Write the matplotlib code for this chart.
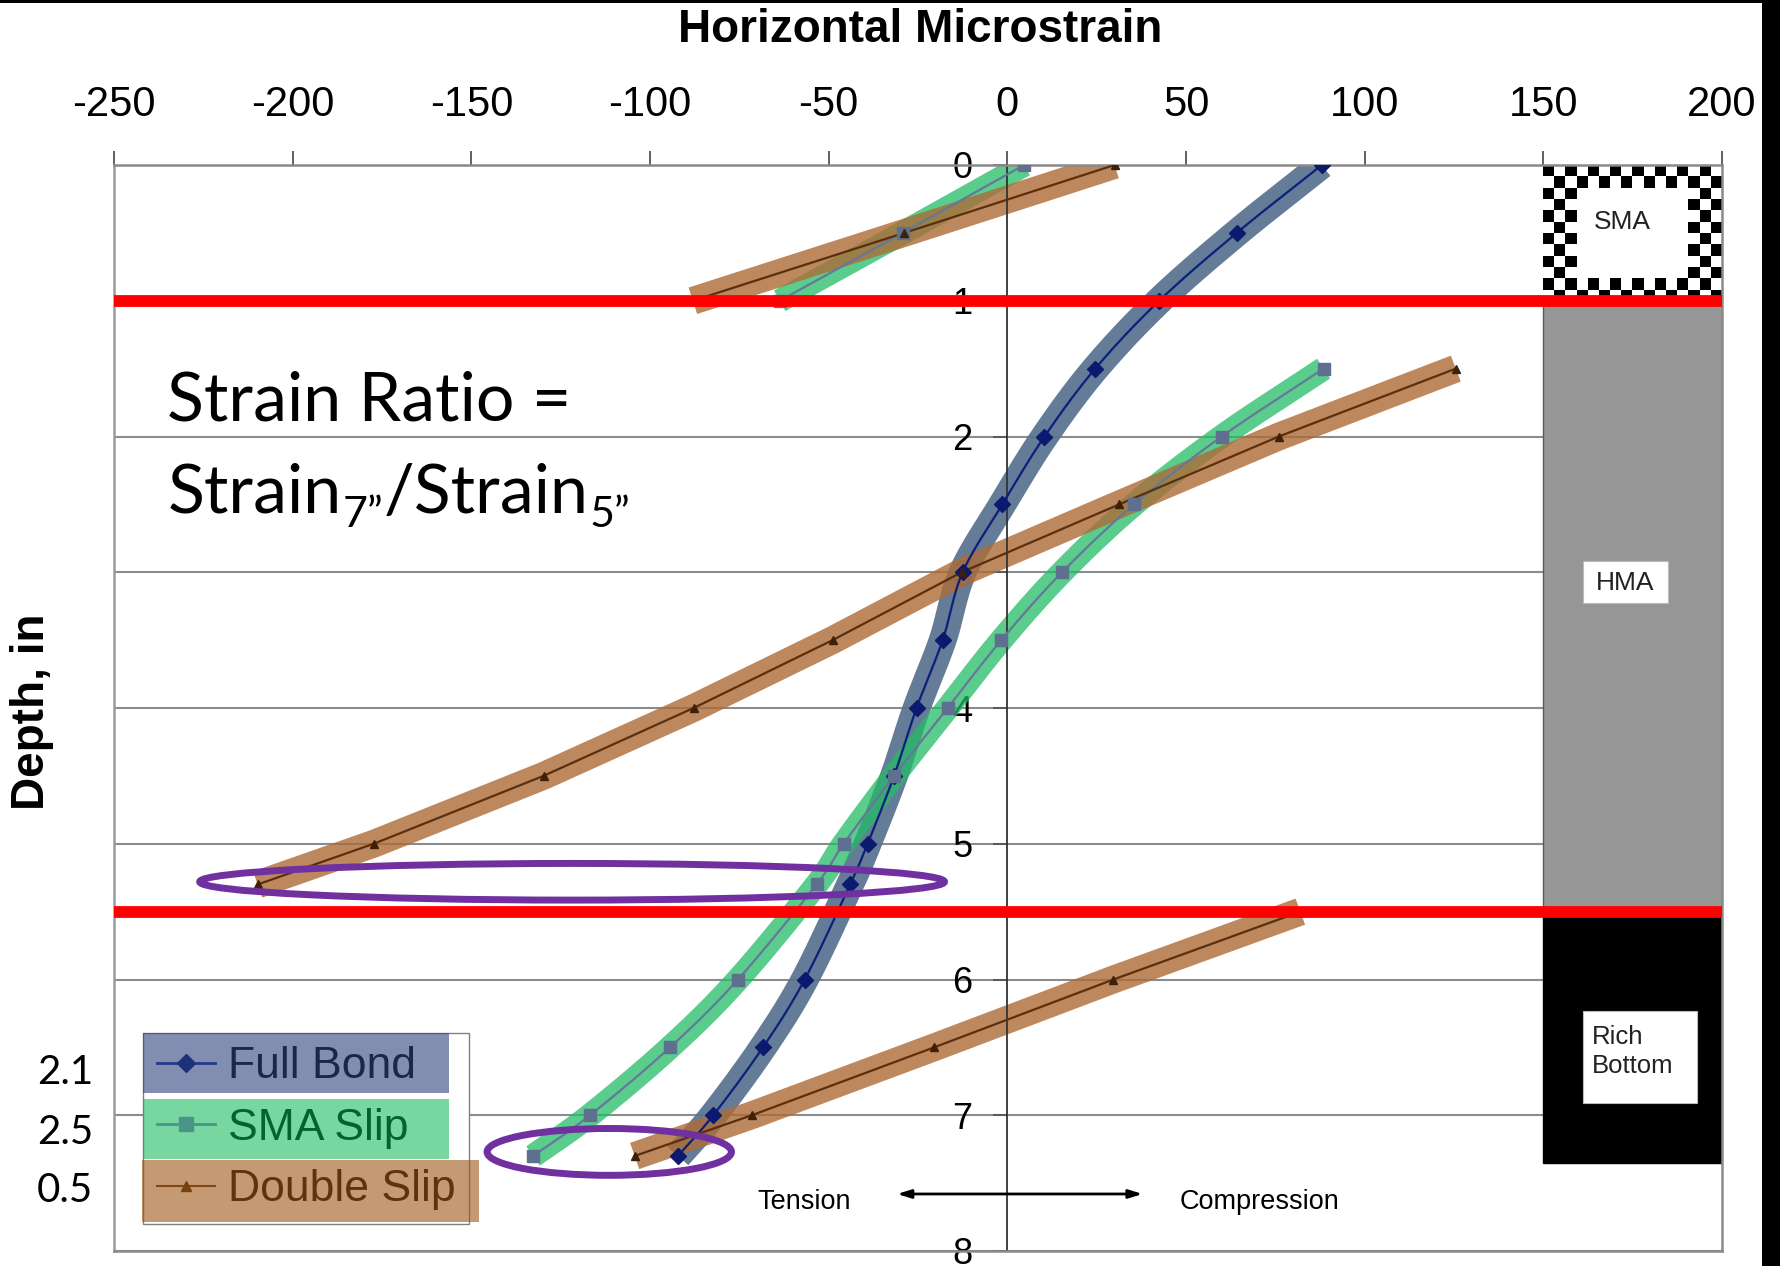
import numpy as np
import matplotlib.pyplot as plt
from matplotlib.patches import Rectangle, Ellipse
from matplotlib.lines import Line2D

plt.rcParams['font.family'] = ['Liberation Sans', 'DejaVu Sans']
plt.rcParams['axes.unicode_minus'] = False

nan = np.nan

# horizontal microstrain vs depth (in); nan marks a break between segments
depth_full = [0, 0.5, 1, 1.5, 2, 2.5, 3, 3.5, 4, 4.5, 5, 5.3, 6, 6.5, 7, 7.3]
full_bond = [88.0, 64.2, 42.5, 24.6, 10.4, -1.4, -12.5, -18.1, -25.4, -31.7,
             -39.1, -44.0, -56.7, -68.4, -82.3, -92.2]

depth_sma = [0, 0.5, 1, nan, 1.5, 2, 2.5, 3, 3.5, 4, 4.5, 5, 5.3, 6, 6.5, 7, 7.3]
sma_slip = [4.7, -29.3, -63.7, nan, 88.5, 60.0, 35.5, 15.3, -1.7, -16.7, -31.7,
            -45.8, -53.4, -75.4, -94.4, -116.8, -132.7]

depth_double = [0, 0.5, 1, nan, 1.5, 2, 2.5, 3, 3.5, 4, 4.5, 5, 5.3,
                nan, 5.5, 6, 6.5, 7, 7.3]
double_slip = [30.0, -28.8, -88.0, nan, 125.5, 76.0, 31.3, -12.8, -48.9, -87.8,
               -129.8, -177.3, -209.8, nan, 82.0, 29.7, -20.5, -71.5, -104.3]

series_names = ['Full Bond', 'SMA Slip', 'Double Slip']
ratio_labels = ['2.1', '2.5', '0.5']
x_ticks = list(range(-250, 201, 50))
y_ticks = list(range(0, 9))
interfaces = [1.0, 5.5]
layer_tops = [0, 1.0, 5.5]
layer_bottoms = [1.0, 5.5, 7.35]

W, H = 1781, 1266


def split(xs, ys):
    xs, ys = np.asarray(xs, float), np.asarray(ys, float)
    breaks = np.where(np.isnan(xs))[0]
    out, start = [], 0
    for b in list(breaks) + [len(xs)]:
        out.append((xs[start:b], ys[start:b]))
        start = b + 1
    return out


def catmull(xs, ys, n=24):
    pts = np.column_stack([xs, ys])
    if len(pts) < 3:
        return xs, ys
    p = np.vstack([2 * pts[0] - pts[1], pts, 2 * pts[-1] - pts[-2]])
    t = np.linspace(0, 1, n, endpoint=False)[:, None]
    out = []
    for i in range(1, len(p) - 2):
        p0, p1, p2, p3 = p[i - 1], p[i], p[i + 1], p[i + 2]
        out.append(0.5 * (2 * p1 + (-p0 + p2) * t
                          + (2 * p0 - 5 * p1 + 4 * p2 - p3) * t ** 2
                          + (-p0 + 3 * p1 - 3 * p2 + p3) * t ** 3))
    out.append(pts[-1:])
    out = np.vstack(out)
    return out[:, 0], out[:, 1]


fig = plt.figure(figsize=(W / 100, H / 100), dpi=100)
ax = fig.add_axes([114 / W, 15 / H, 1608 / W, 1086 / H])

styles = [
    dict(band='#57718e', ba=0.92, bw=20, line='#0d1f7a', marker='D', ms=8,
         mc='#0b1a6e', smooth=True),
    dict(band='#23bc66', ba=0.75, bw=17, line='#66789a', marker='s', ms=9,
         mc='#5f6f90', smooth=True),
    dict(band='#ae6b37', ba=0.8, bw=20, line='#5a2f0e', marker='^', ms=6,
         mc='#3f1f05', smooth=False),
]
data = [(full_bond, depth_full), (sma_slip, depth_sma), (double_slip, depth_double)]

for k, ((xs, ys), st) in enumerate(zip(data, styles)):
    for sx, sy in split(xs, ys):
        cx, cy = catmull(sx, sy) if st['smooth'] else (sx, sy)
        ax.plot(cx, cy, color=st['band'], alpha=st['ba'], lw=st['bw'],
                solid_capstyle='butt', zorder=2 + 0.1 * k)
        ax.plot(cx, cy, color=st['line'], lw=1.6, zorder=3)
        ax.plot(sx, sy, ls='none', marker=st['marker'], ms=st['ms'],
                color=st['mc'], zorder=3.2)

# pavement layers drawn at the right edge
checker = np.indices((12, 16)).sum(axis=0) % 2
checker[2:10, 3:13] = 1
ax.imshow(checker, cmap='gray', vmin=0, vmax=1, extent=(150, 200, 1, 0),
          aspect='auto', interpolation='nearest', zorder=1)
ax.add_patch(Rectangle((150, layer_tops[1]), 50, layer_bottoms[1] - layer_tops[1],
                       fc='#969696', ec='#5a5a5a', lw=1, zorder=1))
ax.add_patch(Rectangle((150, layer_tops[2]), 50, layer_bottoms[2] - layer_tops[2],
                       fc='black', ec='black', lw=1, zorder=1))
ax.text(172.2, 0.42, 'SMA', fontsize=19, ha='center', va='center', color='#222222', zorder=1.5)
ax.add_patch(Rectangle((161, 2.92), 24, 0.31, fc='white', ec='#bbbbbb', lw=0.8, zorder=1.2))
ax.text(173, 3.08, 'HMA', fontsize=19, ha='center', va='center', color='#222222', zorder=1.5)
ax.add_patch(Rectangle((161, 6.23), 32, 0.68, fc='white', ec='#bbbbbb', lw=0.8, zorder=1.2))
ax.text(163.7, 6.53, 'Rich\nBottom', fontsize=18.5, ha='left', va='center',
        linespacing=1.3, color='#222222', zorder=1.5)

for d in interfaces:
    ax.axhline(d, color='#ff0000', lw=8.5, zorder=5)

ax.add_patch(Ellipse((-121.8, 5.28), 208.4, 0.27, fill=False, ec='#7030a0', lw=5, zorder=6))
ax.add_patch(Ellipse((-111.4, 7.27), 68.4, 0.345, fill=False, ec='#7030a0', lw=5, zorder=6))

# axes frame and ticks
ax.set_xlim(-250, 200)
ax.set_ylim(8, 0)
ax.set_xticks(x_ticks)
ax.set_yticks(y_ticks)
ax.xaxis.tick_top()
ax.spines['left'].set_position(('data', 0))
ax.spines['left'].set_color('#333333')
ax.spines['left'].set_linewidth(1.3)
for s in ['top', 'right', 'bottom']:
    ax.spines[s].set_color('#8a8a8a')
    ax.spines[s].set_linewidth(1.8)
ax.axvline(-250, color='#9a9a9a', lw=1.8, clip_on=False, zorder=0.6)
ax.tick_params(axis='x', direction='out', length=10, width=1.3, color='#555555',
               pad=19, labelsize=30)
ax.tick_params(axis='y', direction='out', length=10, width=1.3, color='#555555',
               pad=15, labelsize=26)
ax.set_axisbelow(True)
ax.yaxis.grid(True, color='#8c8c8c', lw=1.5)

fig.text(920 / W, 1 - 30 / H, 'Horizontal Microstrain', fontsize=33, fontweight='bold',
         ha='center', va='center')
fig.text(32 / W, 1 - 712 / H, 'Depth, in', fontsize=33, fontweight='bold',
         rotation=90, ha='center', va='center')

# strain ratio note
big = dict(fontsize=49, family=['Lato', 'DejaVu Sans'])
small = dict(fontsize=31, family=['Lato', 'DejaVu Sans'])
ax.text(-235.1, 1.88, 'Strain Ratio =', va='baseline', zorder=7, **big)
t1 = ax.text(-235.1, 2.56, 'Strain', va='baseline', zorder=7, **big)
t2 = ax.annotate('7\u201d', xy=(1, 0), xycoords=t1, xytext=(1, -7),
                 textcoords='offset points', va='bottom', zorder=7, **small)
t3 = ax.annotate('/Strain', xy=(1, 0), xycoords=(t2, t1), va='bottom', zorder=7, **big)
ax.annotate('5\u201d', xy=(1, 0), xycoords=t3, xytext=(1, -7),
            textcoords='offset points', va='bottom', zorder=7, **small)

# tension / compression arrow
ax.annotate('', xy=(38.6, 7.58), xytext=(-31.6, 7.58),
            arrowprops=dict(arrowstyle='<|-|>,head_length=0.8,head_width=0.25',
                            color='black', lw=2), zorder=7)
ax.text(-56.8, 7.64, 'Tension', fontsize=19.5, ha='center', va='center')
ax.text(70.5, 7.64, 'Compression', fontsize=19.5, ha='center', va='center')

# legend with tinted rows
handles = [Line2D([], [], color='#1a2a9a', lw=2, marker='D', ms=9, mfc='#0b1a6e', mec='#0b1a6e'),
           Line2D([], [], color='#9a6fd0', lw=2, marker='s', ms=10, mfc='#9a6fd0', mec='#9a6fd0'),
           Line2D([], [], color='#5a2f0e', lw=1.5, marker='^', ms=7, mfc='#3f1f05', mec='#3f1f05')]
leg = ax.legend(handles, series_names, loc='upper left',
                bbox_to_anchor=(143.5 / W, 1 - 1033 / H), bbox_transform=fig.transFigure,
                fontsize=32, frameon=True, fancybox=False, edgecolor='#808080',
                framealpha=1, borderpad=0.3, labelspacing=0.46, handlelength=1.3,
                handletextpad=0.3, borderaxespad=0)
leg.set_zorder(8)
row_boxes = [((143.5, 1033), (449, 1093), '#2d417d', 0.6),
             ((143.5, 1099), (449, 1159), '#09b652', 0.55),
             ((142, 1160), (479, 1222), '#9d5717', 0.6)]
for (x0, y0), (x1, y1), c, a in row_boxes:
    fig.add_artist(Rectangle((x0 / W, 1 - y1 / H), (x1 - x0) / W, (y1 - y0) / H,
                             transform=fig.transFigure, fc=c, alpha=a, ec='none', zorder=10))

for lab, yy in zip(ratio_labels, [1073, 1132, 1190]):
    fig.text(65 / W, 1 - yy / H, lab, fontsize=29, family=['Lato', 'DejaVu Sans'],
             ha='center', va='center')

# border strips
fig.add_artist(Rectangle((0, 1 - 3 / H), 1, 3 / H, transform=fig.transFigure,
                         fc='black', ec='none', zorder=11))
fig.add_artist(Rectangle((1762 / W, 0), 19 / W, 1, transform=fig.transFigure,
                         fc='black', ec='none', zorder=11))

fig.savefig('out.png', dpi=100)
